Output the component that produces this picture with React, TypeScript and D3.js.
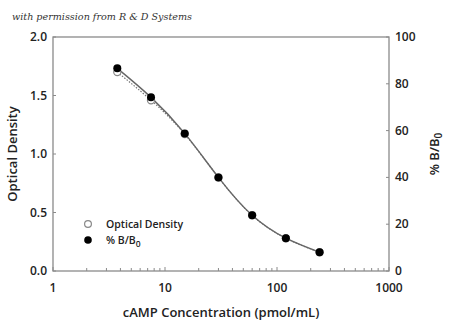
import React from "react";
import * as d3 from "d3";

const concentrations = [3.75, 7.5, 15, 30, 60, 120, 240];
const opticalDensity = [1.70, 1.46, 1.17, 0.80, 0.476, 0.28, 0.16];
const percentBB0 = [86.6, 74.2, 58.8, 40.0, 23.8, 14.0, 8.0];
const leftTicks = [0, 0.5, 1.0, 1.5, 2.0];
const rightTicks = [0, 20, 40, 60, 80, 100];
const xTicks = [1, 10, 100, 1000];

const W = 450, H = 323;
const L = 53, R = 389, T = 37, B = 271;
const font = "'Open Sans', 'Noto Sans', sans-serif";
const axisColor = "#8a8a8a";

export default function App() {
  const x = d3.scaleLog().domain([1, 1000]).range([L, R]);
  const yL = d3.scaleLinear().domain([0, 2]).range([B, T]);
  const yR = d3.scaleLinear().domain([0, 100]).range([B, T]);

  const minor: number[] = [];
  for (let d = 1; d < 1000; d *= 10) for (let k = 2; k <= 9; k++) minor.push(d * k);

  const lineR = d3
    .line<number>()
    .x((_, i) => x(concentrations[i]))
    .y((v) => yR(v))
    .curve(d3.curveNatural);
  const lineL = d3
    .line<number>()
    .x((_, i) => x(concentrations[i]))
    .y((v) => yL(v))
    .curve(d3.curveNatural);

  return (
    <svg width={W} height={H} style={{ position: "absolute", left: 0, top: 0, background: "#fff" }}>
      <text x={12} y={20} fontFamily="'DejaVu Serif', serif" fontStyle="italic" fontSize={9.6} fill="#333">
        with permission from R &amp; D Systems
      </text>
      <rect x={L} y={T} width={R - L} height={B - T} fill="none" stroke={axisColor} strokeWidth={1.3} />
      {leftTicks.map((t) => (
        <g key={"l" + t}>
          <line x1={L} x2={L + 3} y1={yL(t)} y2={yL(t)} stroke={axisColor} />
          <text x={L - 6} y={yL(t) + 4} textAnchor="end" fontFamily={font} fontWeight={600} fontSize={12} fill="#222">
            {t.toFixed(1)}
          </text>
        </g>
      ))}
      {rightTicks.map((t) => (
        <g key={"r" + t}>
          <line x1={R - 3} x2={R} y1={yR(t)} y2={yR(t)} stroke={axisColor} />
          <text x={R + 6} y={yR(t) + 4} textAnchor="start" fontFamily={font} fontWeight={600} fontSize={12} fill="#222">
            {t}
          </text>
        </g>
      ))}
      {xTicks.map((t) => (
        <g key={"x" + t}>
          <line x1={x(t)} x2={x(t)} y1={B} y2={B - 4} stroke={axisColor} />
          <text x={x(t)} y={292} textAnchor="middle" fontFamily={font} fontWeight={600} fontSize={12} fill="#222">
            {t}
          </text>
        </g>
      ))}
      {minor.map((t) => (
        <line key={"m" + t} x1={x(t)} x2={x(t)} y1={B} y2={B - 3} stroke={axisColor} />
      ))}
      <text
        transform={`translate(17,154) rotate(-90)`}
        textAnchor="middle"
        fontFamily={font}
        fontWeight={600}
        fontSize={13}
        fill="#222"
      >
        Optical Density
      </text>
      <text
        transform={`translate(439,154) rotate(-90)`}
        textAnchor="middle"
        fontFamily={font}
        fontWeight={600}
        fontSize={13}
        fill="#222"
      >
        % B/B<tspan fontSize={10} dy={3}>0</tspan>
      </text>
      <text x={221} y={317} textAnchor="middle" fontFamily={font} fontWeight={600} fontSize={13} fill="#222">
        cAMP Concentration (pmol/mL)
      </text>
      <path d={lineL(opticalDensity) || ""} fill="none" stroke="#777" strokeWidth={1.2} strokeDasharray="1.5,1.5" />
      <path d={lineR(percentBB0) || ""} fill="none" stroke="#666" strokeWidth={1.4} />
      {opticalDensity.map((v, i) => (
        <circle key={"o" + i} cx={x(concentrations[i])} cy={yL(v)} r={3.6} fill="#fff" stroke="#888" strokeWidth={1.2} />
      ))}
      {percentBB0.map((v, i) => (
        <circle key={"b" + i} cx={x(concentrations[i])} cy={yR(v)} r={4} fill="#000" />
      ))}
      <circle cx={88} cy={224} r={3.4} fill="#fff" stroke="#888" strokeWidth={1.2} />
      <circle cx={88} cy={240} r={3.8} fill="#000" />
      <text x={106} y={228} fontFamily={font} fontWeight={600} fontSize={10.5} fill="#222">
        Optical Density
      </text>
      <text x={106} y={244} fontFamily={font} fontWeight={600} fontSize={10.5} fill="#222">
        % B/B<tspan fontSize={8.5} dy={3}>0</tspan>
      </text>
    </svg>
  );
}
